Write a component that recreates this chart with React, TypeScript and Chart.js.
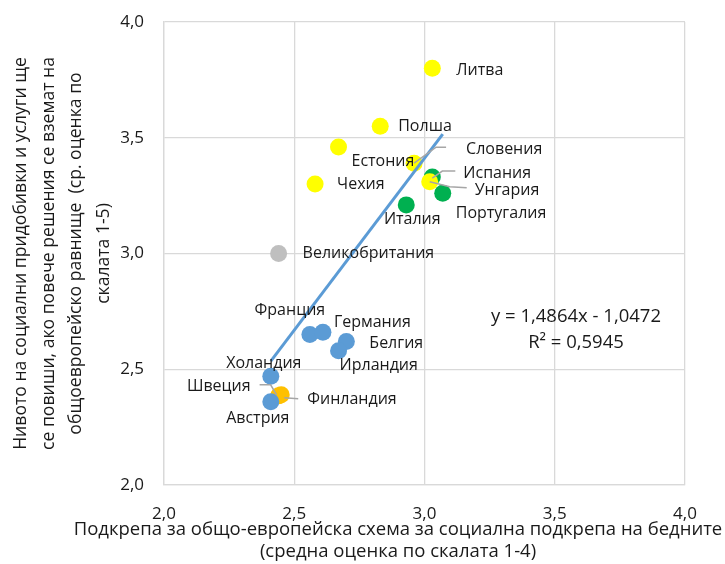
import React, { useEffect, useRef } from 'react';
import { Chart, registerables } from 'chart.js';

Chart.register(...registerables);

// ---- data ----
const countries = ['Литва', 'Полша', 'Естония', 'Чехия', 'Словения', 'Испания', 'Унгария', 'Португалия', 'Италия', 'Великобритания', 'Франция', 'Германия', 'Белгия', 'Ирландия', 'Холандия', 'Швеция', 'Финландия', 'Австрия'];
const supportScheme = [3.03, 2.83, 2.67, 2.58, 2.96, 3.03, 3.02, 3.07, 2.93, 2.44, 2.56, 2.61, 2.70, 2.67, 2.41, 2.44, 2.45, 2.41];
const socialLevel = [3.80, 3.55, 3.46, 3.30, 3.39, 3.33, 3.31, 3.26, 3.21, 3.00, 2.65, 2.66, 2.62, 2.58, 2.47, 2.385, 2.39, 2.36];
const groups = ['east', 'east', 'east', 'east', 'east', 'south', 'east', 'south', 'south', 'uk', 'west', 'west', 'west', 'west', 'west', 'north', 'north', 'west'];
const trendSlope = 1.4864;
const trendIntercept = -1.0472;
const rSquared = 0.5945;
const axisTicks = [2.0, 2.5, 3.0, 3.5, 4.0];
const yTitleLines = ['Нивото на социални придобивки и услуги ще', 'се повиши, ако повече решения се вземат на', 'общоевропейско равнище  (ср. оценка по', 'скалата 1-5)'];
const xTitleLines = ['Подкрепа за общо-европейска схема за социална подкрепа на бедните', '(средна оценка по скалата 1-4)'];

// ---- styles ----
const FONT = '"Open Sans", sans-serif';
const TEXT = '#1a1a1a';
const groupStyle: Record<string, { color: string; order: number }> = {
  uk: { color: '#BFBFBF', order: 6 },
  north: { color: '#FFC000', order: 5 },
  south: { color: '#00B050', order: 4 },
  east: { color: '#FFFF00', order: 3 },
  west: { color: '#5B9BD5', order: 2 },
};
const groupOrder = ['uk', 'north', 'south', 'east', 'west'];

// label placement: align, dx, dy (pixels from the point), optional leader polyline
const labelPlacement: Record<string, { align: CanvasTextAlign; dx: number; dy: number; leader?: number[][] }> = {
  'Литва': { align: 'left', dx: 24, dy: 2 },
  'Полша': { align: 'left', dx: 18, dy: 0 },
  'Естония': { align: 'left', dx: 13, dy: 14 },
  'Чехия': { align: 'left', dx: 22, dy: 0 },
  'Словения': { align: 'left', dx: 52, dy: -14, leader: [[0, 0], [22, -16], [32, -16]] },
  'Испания': { align: 'left', dx: 31, dy: -4, leader: [[0, 1], [10, -6], [23, -6]] },
  'Унгария': { align: 'left', dx: 45, dy: 9, leader: [[0, 0], [20, 5], [37, 6]] },
  'Португалия': { align: 'left', dx: 13, dy: 20 },
  'Италия': { align: 'center', dx: 6, dy: 15 },
  'Великобритания': { align: 'left', dx: 24, dy: 0 },
  'Франция': { align: 'center', dx: -20, dy: -24 },
  'Германия': { align: 'left', dx: 11, dy: -10 },
  'Белгия': { align: 'left', dx: 23, dy: 2 },
  'Ирландия': { align: 'left', dx: 1, dy: 15 },
  'Холандия': { align: 'center', dx: -7, dy: -13 },
  'Швеция': { align: 'right', dx: -28, dy: -9, leader: [[-19, -11], [-8, -11], [-2, -1]] },
  'Финландия': { align: 'left', dx: 26, dy: 5, leader: [[17, 4], [3, 3]] },
  'Австрия': { align: 'center', dx: -13, dy: 17 },
};

const fmt = (v: number) => v.toFixed(1).replace('.', ',');
const fmt4 = (v: number) => Math.abs(v).toFixed(4).replace('.', ',');

const annotationPlugin = {
  id: 'annotations',
  afterDraw(chart: any) {
    const ctx: CanvasRenderingContext2D = chart.ctx;
    const xs = chart.scales.x;
    const ys = chart.scales.y;
    const area = chart.chartArea;
    ctx.save();
    ctx.font = `16px ${FONT}`;
    ctx.fillStyle = TEXT;
    ctx.textBaseline = 'middle';
    // point labels
    countries.forEach((name, i) => {
      const p = labelPlacement[name];
      if (!p) return;
      const px = xs.getPixelForValue(supportScheme[i]);
      const py = ys.getPixelForValue(socialLevel[i]);
      if (p.leader) {
        ctx.strokeStyle = '#A6A6A6';
        ctx.lineWidth = 1.5;
        ctx.beginPath();
        p.leader.forEach(([lx, ly], k) => {
          if (k === 0) ctx.moveTo(px + lx, py + ly);
          else ctx.lineTo(px + lx, py + ly);
        });
        ctx.stroke();
      }
      ctx.textAlign = p.align;
      ctx.fillText(name, px + p.dx, py + p.dy);
    });
    // regression equation
    ctx.textAlign = 'center';
    ctx.font = `18.5px ${FONT}`;
    const ex = area.left + 412;
    ctx.fillText(`y = ${fmt4(trendSlope)}x ${trendIntercept < 0 ? '-' : '+'} ${fmt4(trendIntercept)}`, ex, area.top + 295);
    ctx.fillText(`R² = ${fmt4(rSquared)}`, ex, area.top + 321);
    // axis titles
    ctx.font = `18.5px ${FONT}`;
    xTitleLines.forEach((t, k) => {
      ctx.fillText(t, area.left + 234, area.bottom + 45 + k * 22);
    });
    ctx.font = `17.6px ${FONT}`;
    const cy = (area.top + area.bottom) / 2;
    yTitleLines.forEach((t, k) => {
      ctx.save();
      ctx.translate(21 + k * 27.5, cy);
      ctx.rotate(-Math.PI / 2);
      ctx.fillText(t, 0, 0);
      ctx.restore();
    });
    ctx.restore();
  },
};

export default function App() {
  const ref = useRef<HTMLCanvasElement>(null);
  useEffect(() => {
    const canvas = ref.current!;
    const datasets: any[] = groupOrder.map((g) => ({
      type: 'scatter',
      label: g,
      data: countries
        .map((c, i) => (groups[i] === g ? { x: supportScheme[i], y: socialLevel[i] } : null))
        .filter(Boolean),
      backgroundColor: groupStyle[g].color,
      borderWidth: 0,
      pointRadius: 8.5,
      pointHoverRadius: 8.5,
      order: groupStyle[g].order,
    }));
    const xMin = Math.min(...supportScheme);
    const xMax = Math.max(...supportScheme);
    datasets.push({
      type: 'line',
      label: 'trend',
      data: [
        { x: xMin, y: trendSlope * xMin + trendIntercept },
        { x: xMax, y: trendSlope * xMax + trendIntercept },
      ],
      borderColor: '#5B9BD5',
      borderWidth: 3,
      pointRadius: 0,
      fill: false,
      order: 1,
    });
    const gridCfg = { color: '#D9D9D9', lineWidth: 1.3, drawTicks: false };
    const chart = new Chart(canvas, {
      type: 'scatter',
      data: { datasets },
      options: {
        responsive: false,
        animation: false,
        devicePixelRatio: 1,
        layout: { padding: { top: 22, right: 40, left: 0, bottom: 0 } },
        plugins: { legend: { display: false }, tooltip: { enabled: false } },
        scales: {
          x: {
            type: 'linear',
            min: 2,
            max: 4,
            afterBuildTicks: (s: any) => { s.ticks = axisTicks.map((v) => ({ value: v })); },
            afterFit: (s: any) => { s.height = 79; s.paddingLeft = 0; s.paddingRight = 0; },
            grid: gridCfg,
            border: { color: '#D9D9D9', width: 1.3 },
            ticks: { padding: 19, color: TEXT, font: { family: FONT, size: 17 }, callback: (v: any) => fmt(Number(v)) },
          },
          y: {
            type: 'linear',
            min: 2,
            max: 4,
            afterBuildTicks: (s: any) => { s.ticks = axisTicks.map((v) => ({ value: v })); },
            afterFit: (s: any) => { s.width = 164; s.paddingTop = 0; s.paddingBottom = 0; },
            grid: gridCfg,
            border: { color: '#D9D9D9', width: 1.3 },
            ticks: { padding: 20, color: TEXT, font: { family: FONT, size: 17 }, callback: (v: any) => fmt(Number(v)) },
          },
        },
      },
      plugins: [annotationPlugin],
    } as any);
    return () => chart.destroy();
  }, []);
  return (
    <div style={{ position: 'absolute', left: 0, top: 0, width: 725, height: 564 }}>
      <canvas ref={ref} width={725} height={564} style={{ display: 'block' }} />
    </div>
  );
}
